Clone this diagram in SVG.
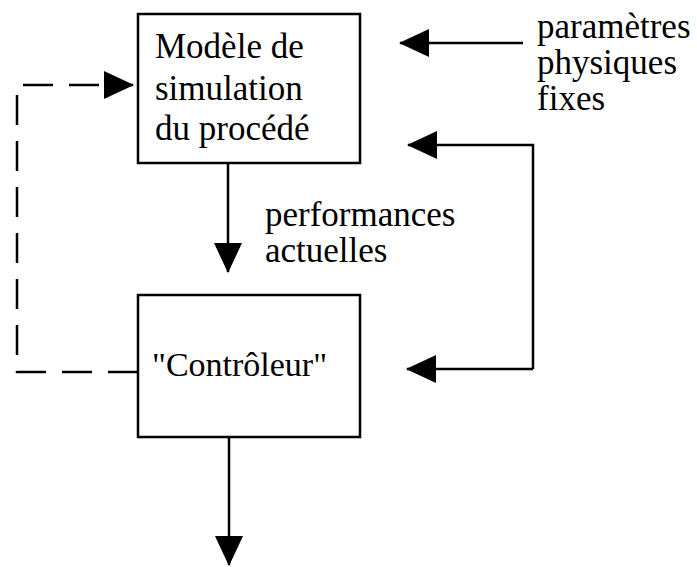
<svg xmlns="http://www.w3.org/2000/svg" width="697" height="567" viewBox="0 0 697 567">
<defs>
<style>
.box{fill:#fff;stroke:#000;stroke-width:2.5}
.ln{fill:none;stroke:#000;stroke-width:2.5}
.dash{fill:none;stroke:#000;stroke-width:2.5;stroke-dasharray:30 16}
text{font-family:"Liberation Serif","Times New Roman",serif;font-size:35px;fill:#000}
</style>
<marker id="ah" viewBox="0 0 30 28" refX="29" refY="14" markerWidth="30" markerHeight="28" markerUnits="userSpaceOnUse" orient="auto">
<path d="M0,0 L30,14 L0,28 Z" fill="#000"/>
</marker>
</defs>
<g id="connectors">
<line class="ln" x1="228" y1="163" x2="228" y2="272" marker-end="url(#ah)"/>
<line class="ln" x1="229" y1="437" x2="229" y2="565" marker-end="url(#ah)"/>
<line class="ln" x1="523" y1="43" x2="400" y2="43" marker-end="url(#ah)"/>
<path class="ln" d="M533,369 V145 H408" marker-end="url(#ah)"/>
<path class="ln" d="M533,369 H407" marker-end="url(#ah)"/>
<path class="dash" d="M138,372 H17 V85 H133" marker-end="url(#ah)"/>
</g>
<g id="modele">
<rect class="box" x="138" y="14" width="222" height="149"/>
<text x="155" y="58">Modèle de</text>
<text x="155" y="100">simulation</text>
<text x="155" y="140">du procédé</text>
</g>
<g id="controleur">
<rect class="box" x="138" y="295" width="222" height="142"/>
<text x="152" y="376" style="font-size:34px">"Contrôleur"</text>
</g>
<g id="parametres">
<text x="537" y="38">paramètres</text>
<text x="537" y="74">physiques</text>
<text x="537" y="110">fixes</text>
</g>
<g id="performances">
<text x="265" y="226">performances</text>
<text x="265" y="262">actuelles</text>
</g>
</svg>
